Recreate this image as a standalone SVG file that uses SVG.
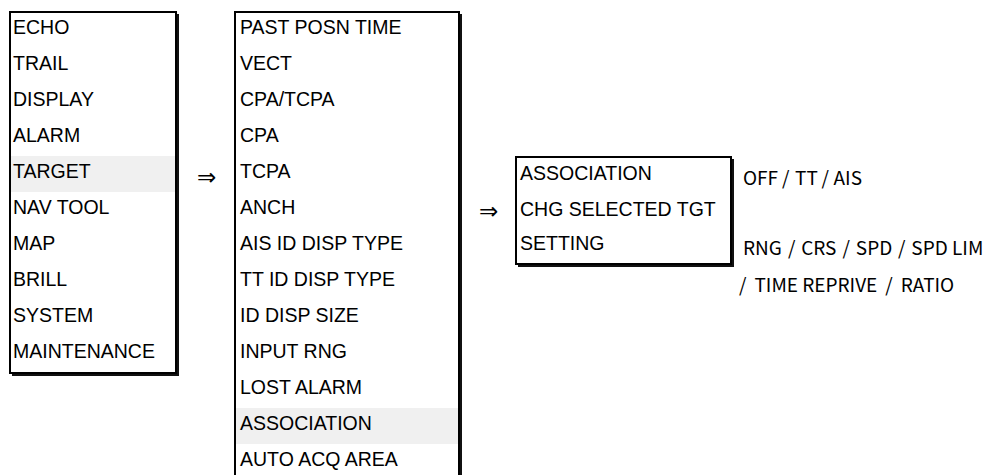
<svg xmlns="http://www.w3.org/2000/svg" width="988" height="475" viewBox="0 0 988 475">
<style>
.box{fill:#fff;stroke:#000;stroke-width:2}
.shadow{fill:none;stroke:#111;stroke-width:2}
.hl{fill:#f0f0f0}
.t{font-family:"Liberation Sans",Arial,sans-serif;font-size:19.5px;fill:#000}
.n{font-family:"Noto Sans CJK JP","Noto Sans",sans-serif;font-size:19px;fill:#000}
.arr{font-family:"DejaVu Sans",sans-serif;font-size:23px;fill:#000}
</style>
<rect width="988" height="475" fill="#fff"/>
<g id="menu-main">
<rect class="box" x="10" y="12" width="166" height="361"/>
<polyline class="shadow" points="178,14 178,375 12,375"/>
<rect class="hl" x="11" y="156" width="164" height="36"/>
<text class="t" x="13" y="34">ECHO</text>
<text class="t" x="13" y="70">TRAIL</text>
<text class="t" x="13" y="106">DISPLAY</text>
<text class="t" x="13" y="142">ALARM</text>
<text class="t" x="13" y="178">TARGET</text>
<text class="t" x="13" y="214">NAV TOOL</text>
<text class="t" x="13" y="250">MAP</text>
<text class="t" x="13" y="286">BRILL</text>
<text class="t" x="13" y="322">SYSTEM</text>
<text class="t" x="13" y="358">MAINTENANCE</text>
</g>
<g id="menu-target">
<rect class="box" x="235" y="12" width="224" height="475"/>
<polyline class="shadow" points="461,14 461,490"/>
<rect class="hl" x="236" y="408" width="222" height="36"/>
<text class="t" x="240" y="34">PAST POSN TIME</text>
<text class="t" x="240" y="70">VECT</text>
<text class="t" x="240" y="106">CPA/TCPA</text>
<text class="t" x="240" y="142">CPA</text>
<text class="t" x="240" y="178">TCPA</text>
<text class="t" x="240" y="214">ANCH</text>
<text class="t" x="240" y="250">AIS ID DISP TYPE</text>
<text class="t" x="240" y="286">TT ID DISP TYPE</text>
<text class="t" x="240" y="322">ID DISP SIZE</text>
<text class="t" x="240" y="358">INPUT RNG</text>
<text class="t" x="240" y="394">LOST ALARM</text>
<text class="t" x="240" y="430">ASSOCIATION</text>
<text class="t" x="240" y="466">AUTO ACQ AREA</text>
</g>
<g id="menu-association">
<rect class="box" x="516" y="157" width="215" height="107"/>
<polyline class="shadow" points="733,159 733,266 518,266"/>
<text class="t" x="520" y="180">ASSOCIATION</text>
<text class="t" x="520" y="216">CHG SELECTED TGT</text>
<text class="t" x="520" y="250">SETTING</text>
</g>
<g id="values">
<text class="n" x="743" y="185">OFF<tspan dx="5.5">/</tspan><tspan dx="5.5">TT</tspan><tspan dx="5.5">/</tspan><tspan dx="5.5">AIS</tspan></text>
<text class="n" x="743" y="255">RNG<tspan dx="6">/</tspan><tspan dx="6">CRS</tspan><tspan dx="6">/</tspan><tspan dx="6">SPD</tspan><tspan dx="6">/</tspan><tspan dx="6">SPD LIM</tspan></text>
<text class="n" x="739" y="292">/<tspan dx="8">TIME REPRIVE</tspan><tspan dx="8">/</tspan><tspan dx="8">RATIO</tspan></text>
</g>
<g id="connectors">
<text class="arr" x="197" y="185">⇒</text>
<text class="arr" x="479" y="219">⇒</text>
</g>
</svg>
